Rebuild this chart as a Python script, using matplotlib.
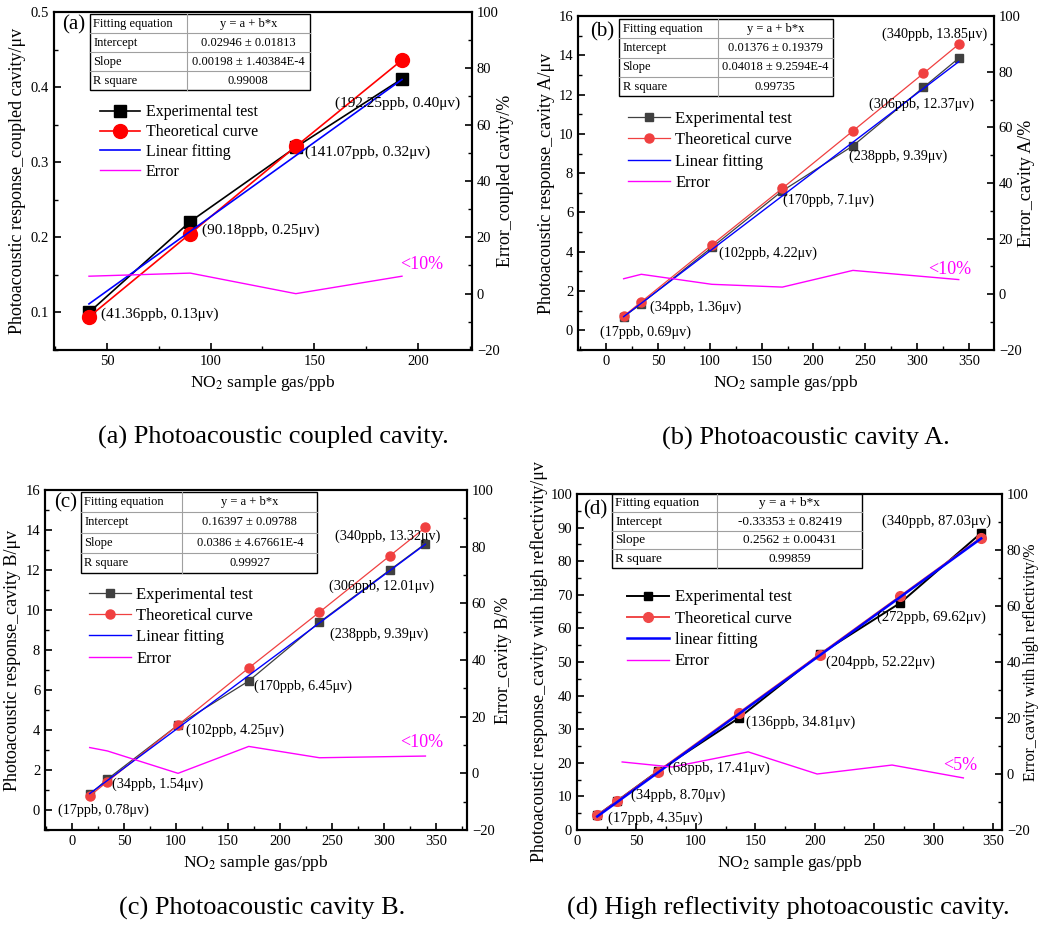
"""
Four-panel NO2 photoacoustic response figure (coupled cavity, cavity A,
cavity B, high reflectivity cavity) with fitting tables and error curves.
"""

import matplotlib
matplotlib.use("Agg")
import matplotlib.pyplot as plt
from matplotlib.patches import Rectangle
from matplotlib.ticker import MultipleLocator

plt.rcParams["font.family"] = "serif"
plt.rcParams["font.serif"] = ["Liberation Serif", "DejaVu Serif"]
plt.rcParams["mathtext.fontset"] = "stix"

W, H = 1039, 930

# ---------------------------------------------------------------------------
# Data
# ---------------------------------------------------------------------------

# (a) coupled cavity
A_X = [41.36, 90.18, 141.07, 192.25]
A_EXP = [0.100, 0.221, 0.320, 0.411]
A_THEO = [0.094, 0.205, 0.321, 0.436]
A_ERR_X = [41.36, 90.18, 141.07, 192.25]
A_ERR = [6.2, 7.3, 0.0, 6.2]
A_FIT = (0.02946, 0.00198)
A_TABLE = [["Fitting equation", "y = a + b*x"],
           ["Intercept", "0.02946 ± 0.01813"],
           ["Slope", "0.00198 ± 1.40384E-4"],
           ["R square", "0.99008"]]
A_NOTES = ["(192.25ppb, 0.40μv)", "(141.07ppb, 0.32μv)",
           "(90.18ppb, 0.25μv)", "(41.36ppb, 0.13μv)"]

# (b) cavity A
B_X = [17, 34, 102, 170, 238, 306, 340]
B_EXP = [0.69, 1.36, 4.22, 7.10, 9.39, 12.37, 13.85]
B_THEO = [0.72, 1.45, 4.35, 7.23, 10.15, 13.08, 14.56]
B_ERR_X = [17, 34, 102, 170, 238, 340]
B_ERR = [5.6, 7.2, 3.6, 2.6, 8.6, 5.3]
B_FIT = (0.01376, 0.04018)
B_TABLE = [["Fitting equation", "y = a + b*x"],
           ["Intercept", "0.01376 ± 0.19379"],
           ["Slope", "0.04018 ± 9.2594E-4"],
           ["R square", "0.99735"]]
B_NOTES = ["(340ppb, 13.85μv)", "(306ppb, 12.37μv)", "(238ppb, 9.39μv)",
           "(170ppb, 7.1μv)", "(102ppb, 4.22μv)", "(34ppb, 1.36μv)",
           "(17ppb, 0.69μv)"]

# (c) cavity B
C_X = [17, 34, 102, 170, 238, 306, 340]
C_EXP = [0.78, 1.54, 4.25, 6.45, 9.39, 12.01, 13.32]
C_THEO = [0.70, 1.42, 4.25, 7.10, 9.89, 12.72, 14.13]
C_ERR_X = [17, 34, 102, 170, 238, 340]
C_ERR = [9.1, 7.9, 0.0, 9.5, 5.5, 6.1]
C_FIT = (0.16397, 0.0386)
C_TABLE = [["Fitting equation", "y = a + b*x"],
           ["Intercept", "0.16397 ± 0.09788"],
           ["Slope", "0.0386 ± 4.67661E-4"],
           ["R square", "0.99927"]]
C_NOTES = ["(340ppb, 13.32μv)", "(306ppb, 12.01μv)", "(238ppb, 9.39μv)",
           "(170ppb, 6.45μv)", "(102ppb, 4.25μv)", "(34ppb, 1.54μv)",
           "(17ppb, 0.78μv)"]

# (d) high reflectivity cavity
D_X = [17, 34, 68, 136, 204, 272, 340]
D_EXP = [4.35, 8.70, 17.5, 33.3, 52.3, 67.6, 88.4]
D_THEO = [4.35, 8.70, 17.41, 34.81, 52.22, 69.62, 87.03]
D_ERR_X = [38, 80, 144, 202, 265, 325]
D_ERR = [4.3, 2.5, 7.9, 0.0, 3.2, -1.4]
D_FIT = (-0.33353, 0.2562)
D_TABLE = [["Fitting equation", "y = a + b*x"],
           ["Intercept", "-0.33353 ± 0.82419"],
           ["Slope", "0.2562 ± 0.00431"],
           ["R square", "0.99859"]]
D_NOTES = ["(340ppb, 87.03μv)", "(272ppb, 69.62μv)", "(204ppb, 52.22μv)",
           "(136ppb, 34.81μv)", "(68ppb, 17.41μv)", "(34ppb, 8.70μv)",
           "(17ppb, 4.35μv)"]


def px(x, y):
    """Pixel position -> figure fraction."""
    return x / W, 1 - y / H


def draw_table(ax, rows, box, split, fs):
    """Simple two-column fit table in axes coordinates."""
    x0, y0, x1, y1 = box
    xs = x0 + (x1 - x0) * split
    rh = (y1 - y0) / len(rows)
    ax.add_patch(Rectangle((x0, y0), x1 - x0, y1 - y0, transform=ax.transAxes,
                           facecolor="white", edgecolor="black", lw=1.0, zorder=6))
    kw = dict(transform=ax.transAxes, color="#a0a0a0", lw=0.8, zorder=7)
    ax.plot([xs, xs], [y0, y1], **kw)
    for i in range(1, len(rows)):
        ax.plot([x0, x1], [y1 - i * rh] * 2, **kw)
    for i, (left, right) in enumerate(rows):
        yc = y1 - (i + 0.5) * rh
        ax.text(x0 + 0.008, yc, left, transform=ax.transAxes, ha="left",
                va="center", fontsize=fs, zorder=8)
        ax.text((xs + x1) / 2, yc, right, transform=ax.transAxes, ha="center",
                va="center", fontsize=fs, zorder=8)


def draw_panel(fig, rect, x, exp, theo, err_x, err, fit, cfg):
    ax = fig.add_axes(rect)
    ax2 = ax.twinx()

    fit_x = [min(x), max(x)]
    fit_y = [fit[0] + fit[1] * v for v in fit_x]

    h1, = ax.plot(x, exp, color=cfg["exp_color"], lw=cfg["lw"], marker="s",
                  ms=cfg["ms_sq"], label="Experimental test", zorder=3)
    h2, = ax.plot(x, theo, color=cfg["theo_color"], lw=cfg["lw"], marker="o",
                  ms=cfg["ms_ci"], label="Theoretical curve", zorder=4)
    h3, = ax.plot(fit_x, fit_y, color="#0000ff", lw=cfg["fit_lw"],
                  label=cfg["fit_label"], zorder=5)
    h4, = ax2.plot(err_x, err, color="#ff00ff", lw=1.0, label="Error")

    ax.set_xlim(*cfg["xlim"])
    ax.set_ylim(*cfg["ylim"])
    ax2.set_ylim(-20, 100)
    ax.xaxis.set_major_locator(MultipleLocator(50))
    ax.xaxis.set_minor_locator(MultipleLocator(25))
    ax.yaxis.set_major_locator(MultipleLocator(cfg["ystep"]))
    ax.yaxis.set_minor_locator(MultipleLocator(cfg["ystep"] / 2))
    ax2.yaxis.set_major_locator(MultipleLocator(20))
    ax2.yaxis.set_minor_locator(MultipleLocator(10))

    for a in (ax, ax2):
        a.tick_params(which="major", direction="in", length=5, width=1.2,
                      labelsize=10.5)
        a.tick_params(which="minor", direction="in", length=3, width=1.0)
        for s in a.spines.values():
            s.set_linewidth(1.5)
    ax.tick_params(axis="x", which="both", top=False)

    ax.set_xlabel("NO$_2$ sample gas/ppb", fontsize=12.5, labelpad=4)
    ax.set_ylabel(cfg["ylabel"], fontsize=13)
    ax.yaxis.set_label_coords(cfg["ylab_x"], 0.5)
    ax2.set_ylabel(cfg["ylabel2"], fontsize=cfg["ylabel2_fs"])
    ax2.yaxis.set_label_coords(cfg["ylab2_x"], 0.5)

    draw_table(ax2, cfg["table"], cfg["table_box"], cfg["table_split"],
               cfg["table_fs"])

    ax2.legend(handles=[h1, h2, h3, h4], loc="upper left",
               bbox_to_anchor=cfg["leg_anchor"], frameon=False,
               fontsize=cfg["leg_fs"], handlelength=2.5, handletextpad=0.35,
               labelspacing=cfg["leg_sp"], borderpad=0, borderaxespad=0)
    return ax, ax2


fig = plt.figure(figsize=(W / 100, H / 100), dpi=100)

common_bc = dict(exp_color="#404040", theo_color="#f04040", lw=0.9,
                 ms_sq=6, ms_ci=6.5, fit_lw=1.0, fit_label="Linear fitting",
                 ystep=2, ylim=(-1, 16), ylabel2_fs=13,
                 table_fs=9, leg_fs=12, leg_sp=0.32)

panels = [
    (A_X, A_EXP, A_THEO, A_ERR_X, A_ERR, A_FIT,
     [54 / W, 1 - 350 / H, 418 / W, 338 / H],
     dict(exp_color="black", theo_color="#ff0000", lw=1.2, ms_sq=8.5,
          ms_ci=10, fit_lw=1.2, fit_label="Linear fitting", xlim=(24.5, 226),
          ylim=(0.05, 0.5), ystep=0.1, ylab_x=-0.067, ylab2_x=1.060,
          ylabel2_fs=13,
          ylabel="Photoacoustic response_coupled cavity/μv",
          ylabel2="Error_coupled cavity/%", table=A_TABLE,
          table_box=(0.086, 0.769, 0.612, 0.994), table_split=0.44,
          table_fs=9, leg_anchor=(0.11, 0.727), leg_fs=11.5, leg_sp=0.24)),
    (B_X, B_EXP, B_THEO, B_ERR_X, B_ERR, B_FIT,
     [578 / W, 1 - 350 / H, 416 / W, 334 / H],
     dict(common_bc, xlim=(-27, 374), ylab_x=-0.055, ylab2_x=1.058,
          ylabel="Photoacoustic response_cavity A/μv",
          ylabel2="Error_cavity A/%", table=B_TABLE,
          table_box=(0.099, 0.760, 0.613, 0.991), table_split=0.46,
          leg_anchor=(0.12, 0.716))),
    (C_X, C_EXP, C_THEO, C_ERR_X, C_ERR, C_FIT,
     [45 / W, 1 - 830 / H, 422 / W, 340 / H],
     dict(common_bc, xlim=(-26, 380), ylab_x=-0.057, ylab2_x=1.066,
          ylabel="Photoacoustic response_cavity B/μv",
          ylabel2="Error_cavity B/%", table=C_TABLE,
          table_box=(0.085, 0.756, 0.645, 0.994), table_split=0.43,
          leg_anchor=(0.104, 0.716))),
    (D_X, D_EXP, D_THEO, D_ERR_X, D_ERR, D_FIT,
     [577 / W, 1 - 830 / H, 425 / W, 336 / H],
     dict(exp_color="black", theo_color="#f04848", lw=1.4, ms_sq=6,
          ms_ci=7, fit_lw=1.8, fit_label="linear fitting", xlim=(0, 357.5),
          ylim=(0, 100), ystep=10, ylab_x=-0.068, ylab2_x=1.050,
          ylabel2_fs=11.5,
          ylabel="Photoacoustic response_cavity with high reflectivity/μv",
          ylabel2="Error_cavity with high reflectivity/%", table=D_TABLE,
          table_box=(0.082, 0.780, 0.671, 1.0), table_split=0.42,
          table_fs=9.5, leg_anchor=(0.118, 0.716), leg_fs=12, leg_sp=0.32)),
]

for x, exp, theo, ex, er, fit, rect, cfg in panels:
    draw_panel(fig, rect, x, exp, theo, ex, er, fit, cfg)

# ---------------------------------------------------------------------------
# Point labels, panel letters and captions (pixel positions of the original)
# ---------------------------------------------------------------------------

note_pos = [
    (A_NOTES, [(335, 103), (305, 152), (202, 230), (101, 314)], 11),
    (B_NOTES, [(882, 34), (869, 104), (849, 156), (783, 200), (719, 253),
               (650, 307), (600, 332)], 10.2),
    (C_NOTES, [(335, 536), (329, 586), (330, 634), (254, 686), (186, 730),
               (112, 784), (58, 810)], 10.2),
    (D_NOTES, [(882, 521), (877, 617), (826, 662), (746, 722), (668, 768),
               (631, 795), (608, 818)], 10.5),
]
for notes, pos, fs in note_pos:
    for s, (x, y) in zip(notes, pos):
        fig.text(*px(x, y), s, ha="left", va="center", fontsize=fs, zorder=10)

for s, (x, y) in zip(["<10%", "<10%", "<10%", "<5%"],
                     [(400, 264), (928, 270), (400, 742), (943, 765)]):
    fig.text(*px(x, y), s, ha="left", va="center", fontsize=13,
             color="#ff00ff")

for s, (x, y) in zip(["(a)", "(b)", "(c)", "(d)"],
                     [(62, 25), (590, 32), (54, 503), (583, 510)]):
    fig.text(*px(x, y), s, ha="left", va="center", fontsize=15)

captions = ["(a) Photoacoustic coupled cavity.", "(b) Photoacoustic cavity A.",
            "(c) Photoacoustic cavity B.",
            "(d) High reflectivity photoacoustic cavity."]
for s, (x, y) in zip(captions, [(273, 437), (806, 438), (262, 908), (788, 908)]):
    fig.text(*px(x, y), s, ha="center", va="center", fontsize=19)

fig.savefig("out.png", dpi=100)
